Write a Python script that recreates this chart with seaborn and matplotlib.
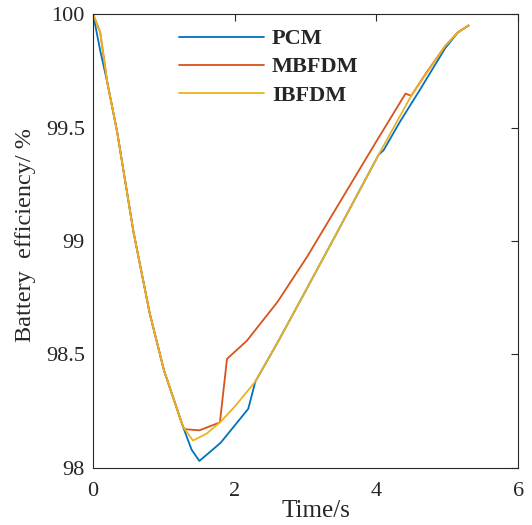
import matplotlib
matplotlib.use("Agg")
import matplotlib.pyplot as plt
import seaborn as sns
import pandas as pd
from matplotlib.ticker import FuncFormatter

series_names = ["PCM", "MBFDM", "IBFDM"]

pcm_x = [0, 0.1, 0.2, 0.34, 0.57, 0.8, 1.0, 1.27, 1.39, 1.5, 1.8, 2.19, 2.29, 2.6, 3.0, 3.5, 4.03, 4.1, 4.34, 4.6, 4.97, 5.15, 5.3]
pcm_y = [100, 99.84, 99.70, 99.48, 99.04, 98.68, 98.43, 98.18, 98.08, 98.03, 98.11, 98.26, 98.38, 98.55, 98.78, 99.07, 99.38, 99.40, 99.53, 99.66, 99.85, 99.92, 99.95]

mbfdm_x = [0, 0.1, 0.2, 0.34, 0.57, 0.8, 1.0, 1.27, 1.3, 1.5, 1.79, 1.89, 2.17, 2.6, 3.02, 3.5, 4.0, 4.41, 4.49, 4.7, 4.97, 5.15, 5.3]
mbfdm_y = [100, 99.92, 99.70, 99.48, 99.04, 98.68, 98.43, 98.18, 98.17, 98.165, 98.20, 98.48, 98.56, 98.73, 98.93, 99.18, 99.44, 99.65, 99.64, 99.74, 99.86, 99.92, 99.95]

ibfdm_x = [0, 0.1, 0.2, 0.34, 0.57, 0.8, 1.0, 1.27, 1.41, 1.6, 1.79, 2.0, 2.29, 2.6, 3.0, 3.5, 4.03, 4.49, 4.97, 5.15, 5.3]
ibfdm_y = [100, 99.92, 99.70, 99.48, 99.04, 98.68, 98.43, 98.18, 98.12, 98.15, 98.20, 98.27, 98.38, 98.55, 98.78, 99.07, 99.38, 99.64, 99.86, 99.92, 99.95]

colors = ["#0072BD", "#D95319", "#EDB120"]

frames = []
for name, xs, ys in zip(series_names, [pcm_x, mbfdm_x, ibfdm_x], [pcm_y, mbfdm_y, ibfdm_y]):
    frames.append(pd.DataFrame({"t": xs, "eff": ys, "method": name}))
df = pd.concat(frames, ignore_index=True)

sns.set_style("white")
plt.rcParams["font.family"] = ["Liberation Serif", "DejaVu Serif"]

fig = plt.figure(figsize=(5.32, 5.25), dpi=100)
ax = fig.add_axes([0.175, 0.109, 0.799, 0.864])

sns.lineplot(data=df, x="t", y="eff", hue="method", hue_order=series_names,
             palette=colors, sort=False, estimator=None, units="method",
             linewidth=1.3, ax=ax)

ax.set_xlim(0, 6)
ax.set_ylim(98, 100)
ax.set_xticks([0, 2, 4, 6])
ax.set_yticks([98, 98.5, 99, 99.5, 100])
ax.yaxis.set_major_formatter(FuncFormatter(lambda v, p: f"{v:g}"))
ax.tick_params(direction="in", top=True, right=True, length=5, width=0.8,
               labelsize=16, colors="#262626")
ax.tick_params(axis="x", pad=10.5)
ax.tick_params(axis="y", pad=6)
for s in ax.spines.values():
    s.set_visible(True)
    s.set_color("#262626")
    s.set_linewidth(0.8)

ax.set_xlabel("Time/s", fontsize=18, color="#262626")
ax.set_ylabel("Battery  efficiency/ %", fontsize=17.5, color="#262626")
ax.xaxis.set_label_coords(0.525, -0.0705)
ax.yaxis.set_label_coords(-0.135, 0.513)

leg = ax.legend(loc="upper left", bbox_to_anchor=(0.155, 1.012), frameon=False,
                prop={"family": "Liberation Serif", "weight": "bold", "size": 16},
                handlelength=3.83, handletextpad=0.36, labelspacing=0.34)

fig.savefig("out.png", dpi=100)
